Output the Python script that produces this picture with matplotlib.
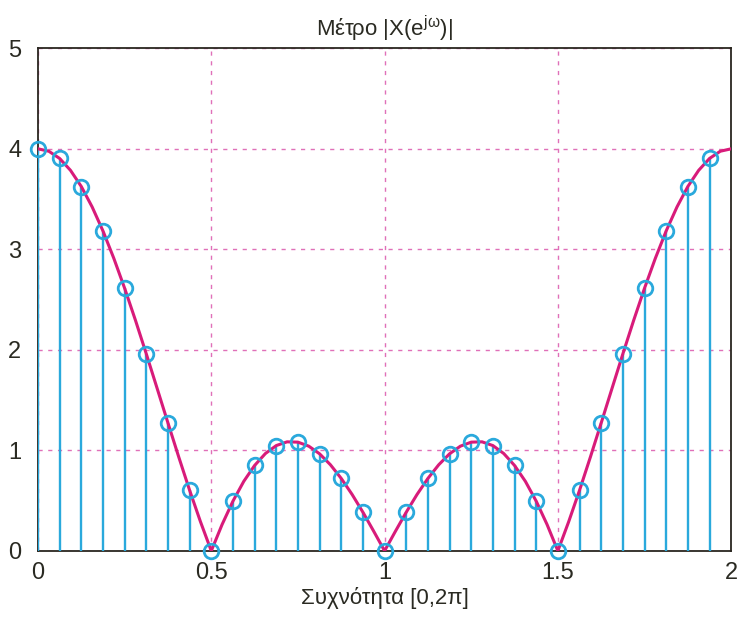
import matplotlib
matplotlib.use('agg')
import matplotlib.pyplot as plt
import numpy as np

# |X(e^jw)|, x in units of pi, step 1/32
curve_x = np.arange(65) / 32.0
curve_half = [4.0, 3.976, 3.904, 3.786, 3.625, 3.422, 3.183, 2.911,
              2.613, 2.294, 1.960, 1.617, 1.273, 0.933, 0.603, 0.291,
              0.0, 0.263, 0.495, 0.692, 0.850, 0.969, 1.048, 1.085,
              1.082, 1.042, 0.966, 0.857, 0.721, 0.562, 0.385, 0.195,
              0.0]
curve_y = curve_half + curve_half[-2::-1]

# DFT samples (32 points)
stem_x = np.arange(32) / 16.0
stem_y = [4.0, 3.904, 3.625, 3.183, 2.613, 1.960, 1.273, 0.603,
          0.0, 0.495, 0.850, 1.048, 1.082, 0.966, 0.721, 0.385,
          0.0, 0.385, 0.721, 0.966, 1.082, 1.048, 0.850, 0.495,
          0.0, 0.603, 1.273, 1.960, 2.613, 3.183, 3.625, 3.904]

xticks = [0, 0.5, 1, 1.5, 2]
xticklabels = ['0', '0.5', '1', '1.5', '2']
yticks = [0, 1, 2, 3, 4, 5]

plt.rcParams['font.family'] = ['Liberation Sans', 'DejaVu Sans']

cyan = '#2aa9dc'
magenta = '#d81b7a'
txt = '#2a2a22'

fig = plt.figure(figsize=(7.39, 6.19), dpi=100)
ax = fig.add_axes([0.0514, 0.110, 0.938, 0.812])

ax.vlines(stem_x, 0, stem_y, color=cyan, lw=1.7, zorder=3)
ax.plot(curve_x, curve_y, color=magenta, lw=2.2, zorder=4)
ax.plot(stem_x, stem_y, 'o', ms=10.5, mfc='none', mec=cyan, mew=2.0,
        zorder=5, clip_on=False)

ax.set_xlim(0, 2)
ax.set_ylim(0, 5)
ax.set_xticks(xticks)
ax.set_xticklabels(xticklabels)
ax.set_yticks(yticks)
ax.tick_params(labelsize=17, length=0, labelcolor=txt)
ax.tick_params(axis='x', pad=8)
ax.tick_params(axis='y', pad=12)
ax.grid(True, color='#e070b8', ls=(0, (3, 4)), lw=1.0)
ax.set_axisbelow(True)
for s in ax.spines.values():
    s.set_linewidth(1.3)
    s.set_color('#2a2620')

ax.set_title(r'Μέτρο |X(e$^{\mathregular{jω}}$)|', fontsize=16, pad=9,
             color=txt)
ax.set_xlabel('Συχνότητα [0,2π]', fontsize=16, labelpad=2, color=txt)

fig.savefig('out.png', dpi=100)
